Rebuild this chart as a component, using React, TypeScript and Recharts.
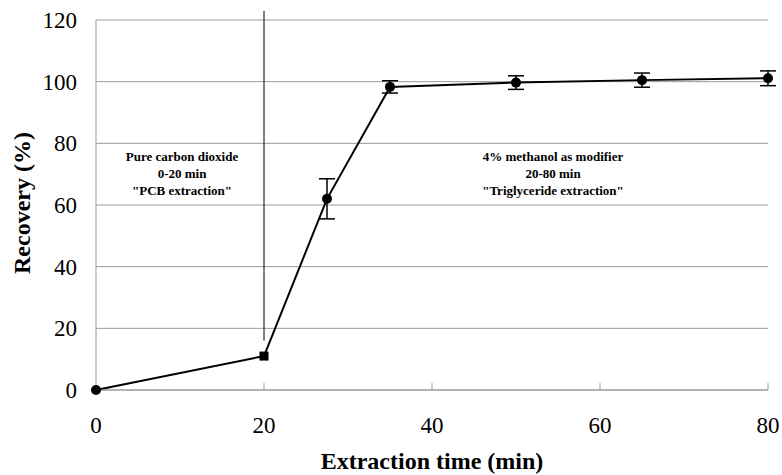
import React from 'react';
import { LineChart, Line, XAxis, YAxis, CartesianGrid, ErrorBar, ReferenceLine } from 'recharts';

// extraction time (min)
const times = [0, 20, 27.5, 35, 50, 65, 80];
// recovery (%)
const recovery = [0, 11, 62, 98.3, 99.7, 100.5, 101.1];
// standard deviation shown as error bars
const errors = [0, 0, 6.5, 2, 2.2, 2.3, 2.4];
const xTicks = [0, 20, 40, 60, 80];
const yTicks = [0, 20, 40, 60, 80, 100, 120];

const data = times.map((t, i) => ({ t, recovery: recovery[i], err: errors[i] }));

const FONT = 'Liberation Serif';

const Dot = (props: any) => {
    const { cx, cy, payload } = props;
    if (cx == null || cy == null) return null;
    if (payload.t === 20) {
        return <rect x={cx - 4.5} y={cy - 4.5} width={9} height={9} fill="#000" />;
    }
    return <circle cx={cx} cy={cy} r={5} fill="#000" />;
};

const XTick = (props: any) => {
    const { x, y, payload } = props;
    return (
        <g>
            {payload.value > 0 && <line x1={x} x2={x} y1={y - 34} y2={y - 27} stroke="#999" />}
            <text x={x} y={y} dy="0.71em" textAnchor="middle" fontSize={23} fontFamily={FONT} fill="#000">
                {payload.value}
            </text>
        </g>
    );
};

const YTick = (props: any) => {
    const { x, y, payload } = props;
    return (
        <text x={x} y={y} dy="0.355em" textAnchor="end" fontSize={23} fontFamily={FONT} fill="#000">
            {payload.value}
        </text>
    );
};

const noteStyle: React.CSSProperties = {
    position: 'absolute',
    fontFamily: FONT,
    fontWeight: 'bold',
    fontSize: 13,
    lineHeight: '17px',
    textAlign: 'center',
    color: '#000',
    whiteSpace: 'nowrap',
    transform: 'translateX(-50%)',
};

const titleStyle: React.CSSProperties = {
    position: 'absolute',
    fontFamily: FONT,
    fontWeight: 'bold',
    fontSize: 24,
    whiteSpace: 'nowrap',
    color: '#000',
};

export default function App() {
    return (
        <div style={{ position: 'absolute', left: 0, top: 0, width: 782, height: 475, background: '#fff', fontFamily: FONT }}>
            <LineChart width={782} height={475} data={data} margin={{ top: 20, right: 14, left: 0, bottom: 0 }}>
                <CartesianGrid vertical={false} stroke="#999" />
                <XAxis
                    dataKey="t"
                    type="number"
                    domain={[0, 80]}
                    ticks={xTicks}
                    height={85}
                    axisLine={{ stroke: '#999' }}
                    tickLine={false}
                    tickSize={6}
                    tickMargin={21}
                    tick={<XTick />}
                />
                <YAxis
                    type="number"
                    domain={[0, 120]}
                    ticks={yTicks}
                    width={96}
                    axisLine={{ stroke: '#999' }}
                    tickLine={false}
                    tickMargin={13}
                    tick={<YTick />}
                />
                <ReferenceLine
                    segment={[{ x: 20, y: 123 }, { x: 20, y: 16 }]}
                    stroke="#000"
                    strokeWidth={1}
                    ifOverflow="visible"
                />
                <Line
                    dataKey="recovery"
                    stroke="#000"
                    strokeWidth={2}
                    dot={<Dot />}
                    isAnimationActive={false}
                >
                    <ErrorBar dataKey="err" width={8} stroke="#000" strokeWidth={1.5} />
                </Line>
            </LineChart>
            <div style={{ ...noteStyle, left: 182, top: 148 }}>
                Pure carbon dioxide<br />0-20 min<br />"PCB extraction"
            </div>
            <div style={{ ...noteStyle, left: 553, top: 148 }}>
                4% methanol as modifier<br />20-80 min<br />"Triglyceride extraction"
            </div>
            <div style={{ ...titleStyle, left: 432, top: 448, transform: 'translateX(-50%)' }}>
                Extraction time (min)
            </div>
            <div style={{ ...titleStyle, left: 22, top: 203, transform: 'translate(-50%, -50%) rotate(-90deg)' }}>
                Recovery (%)
            </div>
        </div>
    );
}
